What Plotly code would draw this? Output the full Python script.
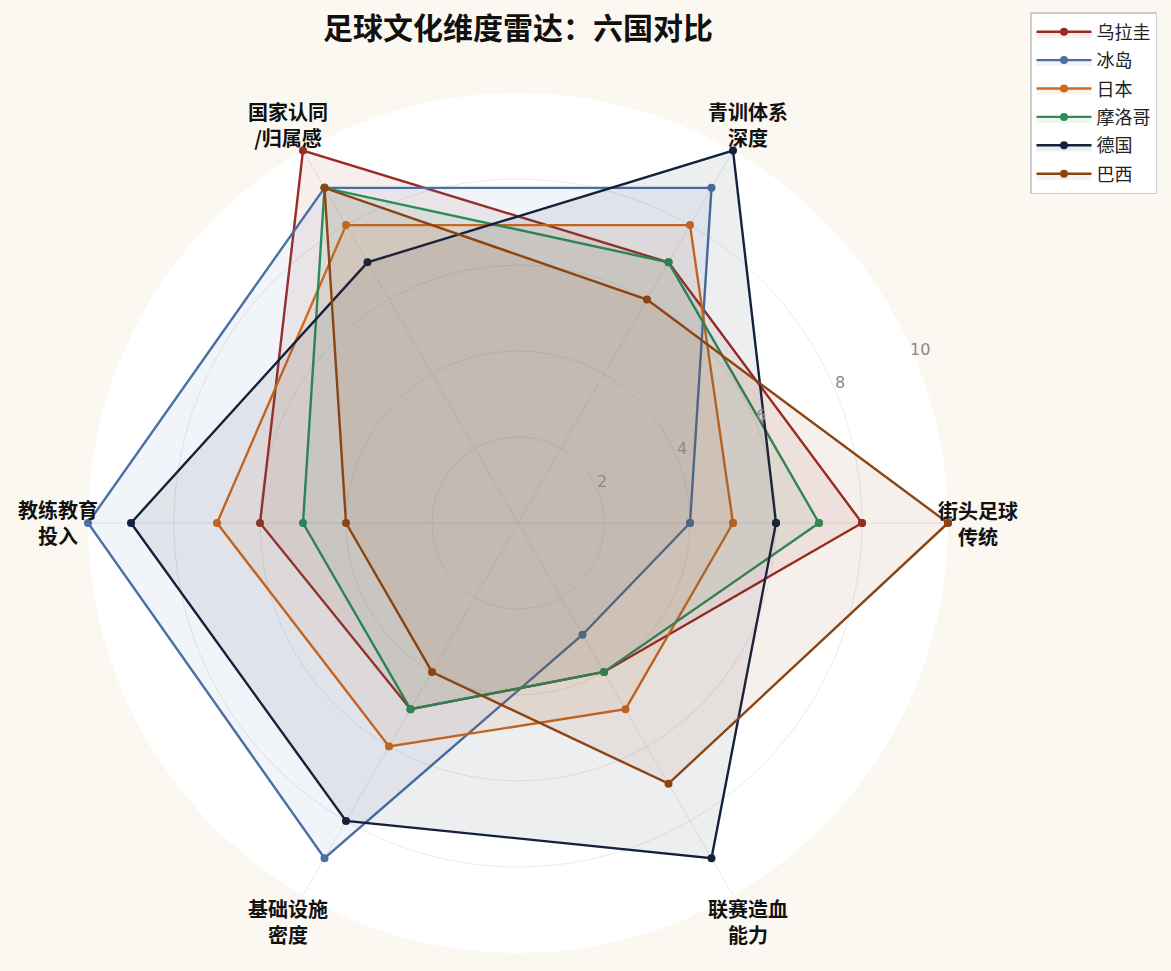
import plotly.graph_objects as go
import math

categories = ["街头足球<br>传统", "青训体系<br>深度", "国家认同<br>/归属感", "教练教育<br>投入", "基础设施<br>密度", "联赛造血<br>能力"]
countries = ["乌拉圭", "冰岛", "日本", "摩洛哥", "德国", "巴西"]
uruguay = [8, 7, 10, 6, 5, 4]
iceland = [4, 9, 9, 10, 9, 3]
japan = [5, 8, 8, 7, 6, 5]
morocco = [7, 7, 9, 5, 5, 4]
germany = [6, 10, 7, 9, 8, 9]
brazil = [10, 6, 9, 4, 4, 7]
series = [uruguay, iceland, japan, morocco, germany, brazil]
colors = ["#9B2A22", "#4A6FA5", "#D2691E", "#2E8B57", "#14213D", "#8B4513"]
fills = ["rgba(155,42,34,0.08)", "rgba(74,111,165,0.08)", "rgba(210,105,30,0.08)",
         "rgba(46,139,87,0.08)", "rgba(20,33,61,0.08)", "rgba(139,69,19,0.08)"]
radial_ticks = [2, 4, 6, 8, 10]
r_max = 10

W, H = 1171, 971
L, R, T, B = 88, 223, 93, 18
pw, ph = W - L - R, H - T - B

fig = go.Figure()
for name, vals, c, f in zip(countries, series, colors, fills):
    fig.add_trace(go.Scatterpolar(
        r=vals + vals[:1], theta=categories + categories[:1], name=name,
        legendgroup=name,
        mode="lines+markers", fill="toself", fillcolor=f,
        line=dict(color=c, width=2.4), marker=dict(color=c, size=8),
    ))

# category labels centered just outside the rim
n = len(categories)
label_r = 460 / 430
for i, cat in enumerate(categories):
    ang = math.radians(360 * i / n)
    fx = 0.5 + 0.5 * label_r * math.cos(ang)
    fy = 0.5 + 0.5 * label_r * math.sin(ang)
    fig.add_annotation(x=fx, y=fy, xref="paper", yref="paper", text="<b>" + cat + "</b>",
                       showarrow=False, xanchor="center", yanchor="middle", align="center",
                       font=dict(size=20, color="#111", family="Noto Sans CJK SC"))

# horizontal radial tick labels along the 22.5 degree axis
rad_ang = math.radians(22.5)
for v in radial_ticks:
    rr = 0.5 * v / r_max + 5 / pw
    fx = 0.5 + rr * math.cos(rad_ang)
    fy = 0.5 + rr * math.sin(rad_ang) + 7 / ph
    fig.add_annotation(x=fx, y=fy, xref="paper", yref="paper", text=str(v),
                       showarrow=False, xanchor="center", yanchor="middle",
                       font=dict(size=16, color="#8A8A8A", family="DejaVu Sans"))

fig.update_layout(
    width=W, height=H,
    paper_bgcolor="#FBF8F1",
    font=dict(family="Noto Sans CJK SC", color="#111"),
    margin=dict(l=L, r=R, t=T, b=B),
    title=dict(text="<b>足球文化维度雷达：六国对比</b>", x=518/W, xanchor="center",
               y=1-28/H, yanchor="middle", yref="container", xref="container",
               font=dict(size=30, color="#111", family="Noto Sans CJK SC")),
    polar=dict(
        bgcolor="white",
        radialaxis=dict(range=[0, r_max], tickvals=radial_ticks, angle=22.5,
                        showticklabels=False,
                        showline=False, ticks="", gridcolor="rgba(225,225,225,0.7)"),
        angularaxis=dict(direction="counterclockwise", rotation=0, showline=False,
                         ticks="", showticklabels=False, gridcolor="rgba(225,225,225,0.7)"),
    ),
    legend=dict(x=1157/W, y=1-12/H, xanchor="right", yanchor="top",
                xref="container", yref="container", traceorder="grouped",
                bgcolor="white", bordercolor="#CCCCCC", borderwidth=1.5,
                font=dict(size=18, color="#222"), tracegroupgap=2, itemwidth=55),
)
fig.write_html("out.html")
